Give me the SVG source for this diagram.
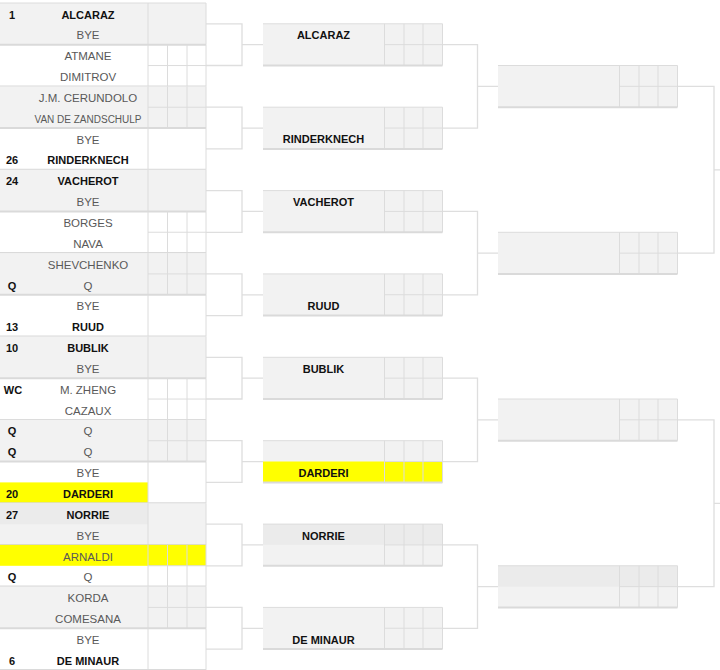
<svg xmlns="http://www.w3.org/2000/svg" width="720" height="670" viewBox="0 0 720 670">
<style>
.g{fill:#f2f2f2}.d{fill:#ebebeb}.y{fill:#ffff00}
.ln{fill:none;stroke:#dcdcdc;stroke-width:1}
.bb{fill:none;stroke:#dadada;stroke-width:2}
.cn{fill:none;stroke:#dedede;stroke-width:1.3}
text{font-family:"Liberation Sans",Arial,sans-serif;font-size:11px;text-anchor:middle}
.b{font-weight:bold;fill:#111}
.n{fill:#595959;font-size:11.5px}
.s{font-size:10px}
</style>
<defs>
<g id="m1"><path class="ln" d="M148,0V41.7M167.5,0V41.7M187,0V41.7M206,0V41.7M148,20.84H206"/><path class="bb" d="M0,41.7H206"/></g>
<g id="b1"><path class="ln" d="M148,0V41.7M206,0V41.7"/><path class="bb" d="M0,41.7H206"/></g>
<g id="bx"><path class="ln" d="M0,0H179.5M121.5,0V41.7M141,0V41.7M160,0V41.7M179.5,0V41.7M121.5,20.84H179.5"/><path class="bb" d="M0,41.7H179.5"/></g>
</defs>
<rect width="720" height="670" fill="#fff"/>

<g id="connectors">
<path class="cn" d="M206,23.8H242V65.5H206M242,44.7H263M206,107.2H242V148.9H206M242,128.1H263M206,190.6H242V232.3H206M242,211.4H263M206,273.9H242V315.6H206M242,294.8H263M206,357.3H242V399H206M242,378.2H263M206,440.7H242V482.4H206M242,461.6H263M206,524.1H242V565.8H206M242,544.9H263M206,607.4H242V649.1H206M242,628.3H263"/>
<path class="cn" d="M442,44.7H477.5V128.1H442M477.5,86.4H498M442,211.4H477.5V294.8H442M477.5,253.1H498M442,378.2H477.5V461.6H442M477.5,419.9H498M442,544.9H477.5V628.3H442M477.5,586.6H498"/>
<path class="cn" d="M678,86.4H714V253.1H678M714,169.8H720M678,419.9H714V586.6H678M714,503.3H720"/>
</g>

<g id="r1-m1"><rect class="g" x="0" y="3" width="206" height="41.7"/><path class="ln" d="M0,3H206"/><use href="#b1" y="3"/><text class="b" x="12" y="18.8">1</text><text class="b" x="88" y="18.8">ALCARAZ</text><text class="n" x="88" y="39.3">BYE</text></g>
<g id="r1-m2"><use href="#m1" y="44.7"/><text class="n" x="88" y="60.4">ATMANE</text><text class="n" x="88" y="81">DIMITROV</text></g>
<g id="r1-m3"><rect class="g" x="0" y="86.4" width="206" height="41.7"/><use href="#m1" y="86.4"/><text class="n" x="88" y="101.9">J.M. CERUNDOLO</text><text class="n s" x="88" y="122.5">VAN DE ZANDSCHULP</text></g>
<g id="r1-m4"><use href="#b1" y="128.1"/><text class="n" x="88" y="143.6">BYE</text><text class="b" x="12" y="164.4">26</text><text class="b" x="88" y="164.4">RINDERKNECH</text></g>
<g id="r1-m5"><rect class="g" x="0" y="169.8" width="206" height="41.7"/><use href="#b1" y="169.8"/><text class="b" x="12" y="185.3">24</text><text class="b" x="88" y="185.3">VACHEROT</text><text class="n" x="88" y="206.1">BYE</text></g>
<g id="r1-m6"><use href="#m1" y="211.4"/><text class="n" x="88" y="227">BORGES</text><text class="n" x="88" y="247.8">NAVA</text></g>
<g id="r1-m7"><rect class="g" x="0" y="253.1" width="206" height="41.7"/><use href="#m1" y="253.1"/><text class="n" x="88" y="268.6">SHEVCHENKO</text><text class="b" x="12" y="289.5">Q</text><text class="n" x="88" y="289.5">Q</text></g>
<g id="r1-m8"><use href="#b1" y="294.8"/><text class="n" x="88" y="310.3">BYE</text><text class="b" x="12" y="331.2">13</text><text class="b" x="88" y="331.2">RUUD</text></g>
<g id="r1-m9"><rect class="g" x="0" y="336.5" width="206" height="41.7"/><use href="#b1" y="336.5"/><text class="b" x="12" y="352">10</text><text class="b" x="88" y="352">BUBLIK</text><text class="n" x="88" y="372.9">BYE</text></g>
<g id="r1-m10"><use href="#m1" y="378.2"/><text class="b" x="13" y="393.7">WC</text><text class="n" x="88" y="393.7">M. ZHENG</text><text class="n" x="88" y="414.5">CAZAUX</text></g>
<g id="r1-m11"><rect class="g" x="0" y="419.9" width="206" height="41.7"/><use href="#m1" y="419.9"/><text class="b" x="12" y="435.4">Q</text><text class="n" x="88" y="435.4">Q</text><text class="b" x="12" y="456.2">Q</text><text class="n" x="88" y="456.2">Q</text></g>
<g id="r1-m12"><rect class="y" x="0" y="482.4" width="148" height="20.9"/><use href="#b1" y="461.6"/><text class="n" x="88" y="477.1">BYE</text><text class="b" x="12" y="497.9">20</text><text class="b" x="88" y="497.9">DARDERI</text></g>
<g id="r1-m13"><rect class="g" x="0" y="503.3" width="206" height="41.7"/><rect class="d" x="0" y="503.3" width="148" height="20.84"/><use href="#b1" y="503.3"/><text class="b" x="12" y="518.8">27</text><text class="b" x="88" y="518.8">NORRIE</text><text class="n" x="88" y="539.6">BYE</text></g>
<g id="r1-m14"><rect class="y" x="0" y="544.9" width="206" height="20.9"/><use href="#m1" y="544.9"/><text class="n" x="88" y="560.5">ARNALDI</text><text class="b" x="12" y="581.3">Q</text><text class="n" x="88" y="581.3">Q</text></g>
<g id="r1-m15"><rect class="g" x="0" y="586.6" width="206" height="41.7"/><use href="#m1" y="586.6"/><text class="n" x="88" y="602.1">KORDA</text><text class="n" x="88" y="623">COMESANA</text></g>
<g id="r1-m16"><use href="#b1" y="628.3"/><text class="n" x="88" y="643.8">BYE</text><text class="b" x="12" y="664.7">6</text><text class="b" x="88" y="664.7">DE MINAUR</text></g>

<g id="r2-m1"><rect class="g" x="263" y="23.8" width="179.5" height="41.7"/><use href="#bx" x="263" y="23.8"/><text class="b" x="323.5" y="39.3">ALCARAZ</text></g>
<g id="r2-m2"><rect class="g" x="263" y="107.2" width="179.5" height="41.7"/><use href="#bx" x="263" y="107.2"/><text class="b" x="323.5" y="143.3">RINDERKNECH</text></g>
<g id="r2-m3"><rect class="g" x="263" y="190.6" width="179.5" height="41.7"/><use href="#bx" x="263" y="190.6"/><text class="b" x="323.5" y="206.1">VACHEROT</text></g>
<g id="r2-m4"><rect class="g" x="263" y="273.9" width="179.5" height="41.7"/><use href="#bx" x="263" y="273.9"/><text class="b" x="323.5" y="310.2">RUUD</text></g>
<g id="r2-m5"><rect class="g" x="263" y="357.3" width="179.5" height="41.7"/><use href="#bx" x="263" y="357.3"/><text class="b" x="323.5" y="372.8">BUBLIK</text></g>
<g id="r2-m6"><rect class="g" x="263" y="440.7" width="179.5" height="41.7"/><rect class="y" x="263" y="461.5" width="179.5" height="20.9"/><use href="#bx" x="263" y="440.7"/><text class="b" x="323.5" y="477">DARDERI</text></g>
<g id="r2-m7"><rect class="g" x="263" y="524.1" width="179.5" height="41.7"/><rect class="d" x="263" y="524.1" width="179.5" height="20.84"/><use href="#bx" x="263" y="524.1"/><text class="b" x="323.5" y="539.6">NORRIE</text></g>
<g id="r2-m8"><rect class="g" x="263" y="607.4" width="179.5" height="41.7"/><use href="#bx" x="263" y="607.4"/><text class="b" x="323.5" y="643.7">DE MINAUR</text></g>

<g id="r3-m1"><rect class="g" x="498" y="65.5" width="179.5" height="41.7"/><use href="#bx" x="498" y="65.5"/></g>
<g id="r3-m2"><rect class="g" x="498" y="232.3" width="179.5" height="41.7"/><use href="#bx" x="498" y="232.3"/></g>
<g id="r3-m3"><rect class="g" x="498" y="399" width="179.5" height="41.7"/><use href="#bx" x="498" y="399"/></g>
<g id="r3-m4"><rect class="g" x="498" y="565.8" width="179.5" height="41.7"/><rect class="d" x="498" y="565.8" width="179.5" height="20.84"/><use href="#bx" x="498" y="565.8"/></g>
</svg>
